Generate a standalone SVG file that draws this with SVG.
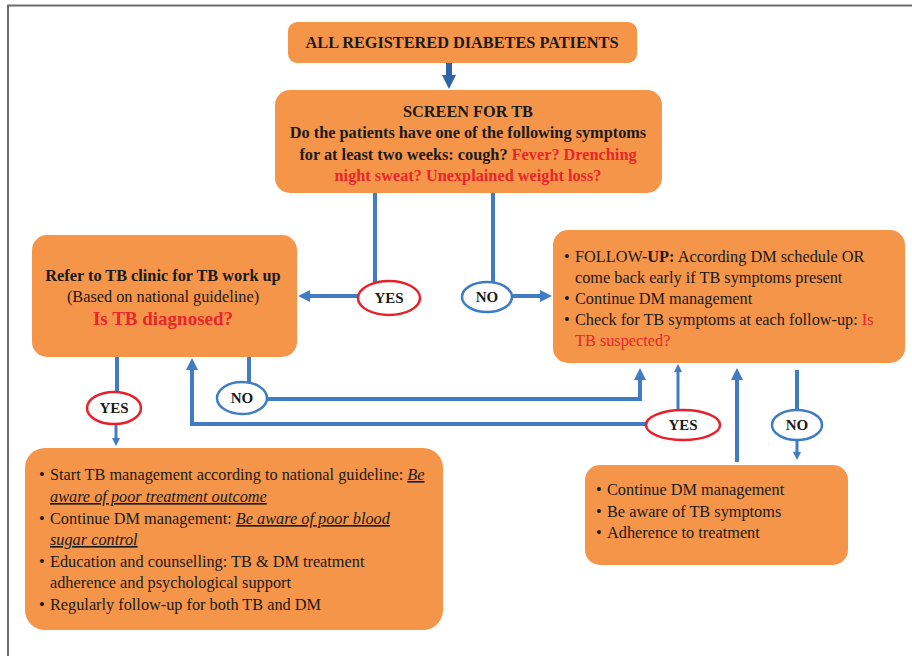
<svg xmlns="http://www.w3.org/2000/svg" width="912" height="656" viewBox="0 0 912 656">
<style>
.box{fill:#F5954A;}
.t{font-family:"Liberation Serif","Times New Roman",serif;font-size:16.3px;fill:#1a1a1a;}
.b{font-weight:bold;}
.red{fill:#E8262B;}
.u{font-style:italic;text-decoration:underline;}
.con{fill:none;stroke:#3F7CC4;stroke-width:4;}
.ey{fill:#fff;stroke:#E8202A;stroke-width:2.5;}
.en{fill:#fff;stroke:#3F7CC4;stroke-width:2.5;}
.lbl{font-family:"Liberation Serif","Times New Roman",serif;font-size:15px;font-weight:bold;fill:#1a1a1a;text-anchor:middle;}
</style>
<defs>
<marker id="ah" viewBox="0 0 10 10" refX="5" refY="5" markerWidth="12" markerHeight="12" markerUnits="userSpaceOnUse" orient="auto"><path d="M0,0 L10,5 L0,10 z" fill="#3F7CC4"/></marker>
<marker id="ahs" viewBox="0 0 10 10" refX="5" refY="5" markerWidth="8" markerHeight="8" markerUnits="userSpaceOnUse" orient="auto"><path d="M0,0 L10,5 L0,10 z" fill="#3F7CC4"/></marker>
<marker id="ahb" viewBox="0 0 10 10" refX="5" refY="5" markerWidth="14" markerHeight="14" markerUnits="userSpaceOnUse" orient="auto"><path d="M0,0 L10,5 L0,10 z" fill="#2F64A8"/></marker>
</defs>
<rect width="912" height="656" fill="#fff"/>
<path d="M7,5.5 H912 M8,5 V656" stroke="#6b6b6b" stroke-width="2" fill="none"/>

<g id="connectors">
<path d="M449,63 V82" class="con" style="stroke:#2F64A8;stroke-width:6" marker-end="url(#ahb)"/>
<path d="M375,193 V282" class="con"/>
<path d="M358,296 H304" class="con" marker-end="url(#ah)"/>
<path d="M493,193 V282" class="con"/>
<path d="M512,296 H546" class="con" marker-end="url(#ah)"/>
<path d="M117,357 V392" class="con"/>
<path d="M116,424 V442" class="con" style="stroke-width:3" marker-end="url(#ahs)"/>
<path d="M249,357 V382" class="con"/>
<path d="M267,399 H640 V374" class="con" marker-end="url(#ah)"/>
<path d="M646,424 H192 V364" class="con" marker-end="url(#ah)"/>
<path d="M678,410 V368" class="con" style="stroke-width:3" marker-end="url(#ahs)"/>
<path d="M737,462 V374" class="con" marker-end="url(#ah)"/>
<path d="M797,370 V410" class="con"/>
<path d="M797,440 V456" class="con" style="stroke-width:3" marker-end="url(#ahs)"/>
</g>

<g id="n-all">
<rect class="box" x="288" y="22" width="349" height="41" rx="9"/>
<text class="t b" x="462" y="48" text-anchor="middle">ALL REGISTERED DIABETES PATIENTS</text>
</g>

<g id="n-screen">
<rect class="box" x="275" y="90" width="387" height="103" rx="15"/>
<text class="t b" x="468" y="117" text-anchor="middle">SCREEN FOR TB</text>
<text class="t b" x="468" y="138" text-anchor="middle">Do the patients have one of the following symptoms</text>
<text class="t b" x="468" y="160" text-anchor="middle">for at least two weeks: cough? <tspan class="red">Fever? Drenching</tspan></text>
<text class="t b red" x="468" y="181" text-anchor="middle">night sweat? Unexplained weight loss?</text>
</g>

<g id="n-refer">
<rect class="box" x="32" y="235" width="265" height="122" rx="15"/>
<text class="t b" x="163" y="281" text-anchor="middle">Refer to TB clinic for TB work up</text>
<text class="t" x="163" y="302" text-anchor="middle">(Based on national guideline)</text>
<text class="t b red" x="163" y="325" text-anchor="middle" style="font-size:19px">Is TB diagnosed?</text>
</g>

<g id="n-followup">
<rect class="box" x="553" y="230" width="352" height="133" rx="15"/>
<text class="t" x="564" y="262">•</text>
<text class="t" x="575" y="262">FOLLOW-<tspan class="b">UP:</tspan> According DM schedule OR</text>
<text class="t" x="575" y="283">come back early if TB symptoms present</text>
<text class="t" x="564" y="304">•</text>
<text class="t" x="575" y="304">Continue DM management</text>
<text class="t" x="564" y="325">•</text>
<text class="t" x="575" y="325">Check for TB symptoms at each follow-up: <tspan class="red">Is</tspan></text>
<text class="t red" x="575" y="346">TB suspected?</text>
</g>

<g id="n-tbmgmt">
<rect class="box" x="25" y="448" width="418" height="182" rx="20"/>
<text class="t" x="39" y="480">•</text>
<text class="t" x="50" y="480">Start TB management according to national guideline: <tspan class="u">Be</tspan></text>
<text class="t u" x="50" y="502">aware of poor treatment outcome</text>
<text class="t" x="39" y="524">•</text>
<text class="t" x="50" y="524">Continue DM management: <tspan class="u">Be aware of poor blood</tspan></text>
<text class="t u" x="50" y="545">sugar control</text>
<text class="t" x="39" y="567">•</text>
<text class="t" x="50" y="567">Education and counselling: TB &amp; DM treatment</text>
<text class="t" x="50" y="588">adherence and psychological support</text>
<text class="t" x="39" y="610">•</text>
<text class="t" x="50" y="610">Regularly follow-up for both TB and DM</text>
</g>

<g id="n-continue">
<rect class="box" x="585" y="465" width="263" height="100" rx="15"/>
<text class="t" x="596" y="495">•</text>
<text class="t" x="607" y="495">Continue DM management</text>
<text class="t" x="596" y="517">•</text>
<text class="t" x="607" y="517">Be aware of TB symptoms</text>
<text class="t" x="596" y="538">•</text>
<text class="t" x="607" y="538">Adherence to treatment</text>
</g>

<g id="l-yes1"><ellipse class="ey" cx="389" cy="298" rx="31" ry="17"/><text class="lbl" x="389" y="303">YES</text></g>
<g id="l-no1"><ellipse class="en" cx="487" cy="297" rx="25" ry="15"/><text class="lbl" x="487" y="302">NO</text></g>
<g id="l-yes2"><ellipse class="ey" cx="114" cy="408" rx="27" ry="16"/><text class="lbl" x="114" y="413">YES</text></g>
<g id="l-no2"><ellipse class="en" cx="242" cy="398" rx="25" ry="16"/><text class="lbl" x="242" y="403">NO</text></g>
<g id="l-yes3"><ellipse class="ey" cx="683" cy="425" rx="37" ry="15"/><text class="lbl" x="683" y="430">YES</text></g>
<g id="l-no3"><ellipse class="en" cx="797" cy="425" rx="25" ry="15"/><text class="lbl" x="797" y="430">NO</text></g>
</svg>
